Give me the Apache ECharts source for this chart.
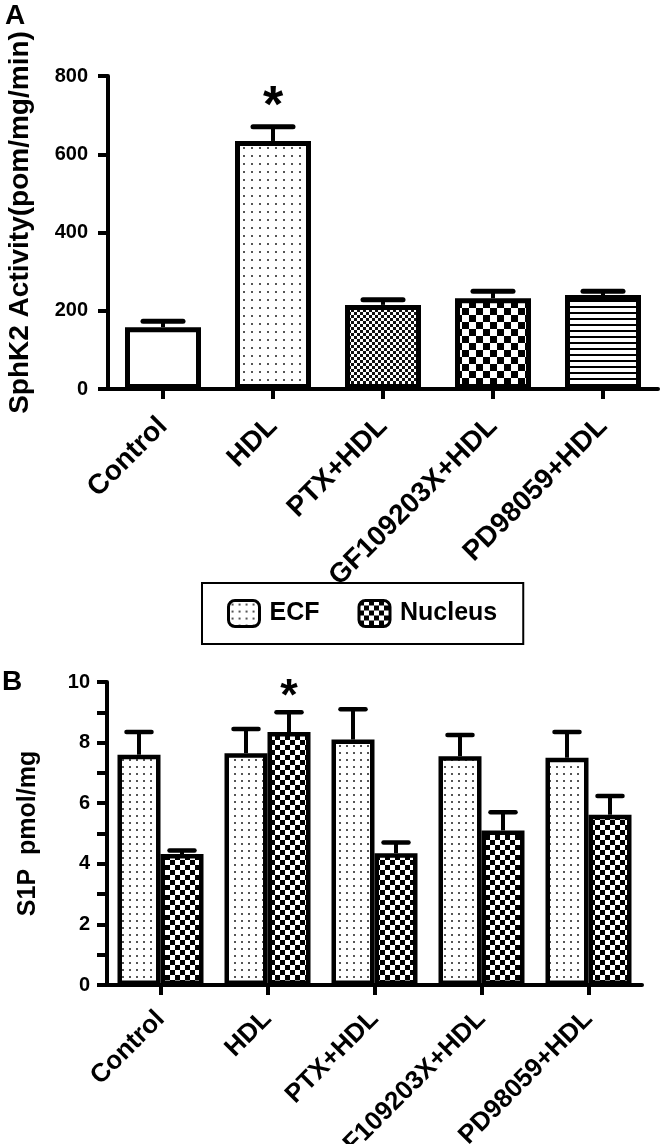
<!DOCTYPE html>
<html><head><meta charset="utf-8">
<script src="https://cdn.jsdelivr.net/npm/echarts@6/dist/echarts.min.js"></script>
<style>html,body{margin:0;padding:0;background:#fff}#c{width:660px;height:1144px}</style>
</head><body><div id="c"></div>
<script>
// ---- data ----
const categories = ['Control', 'HDL', 'PTX+HDL', 'GF109203X+HDL', 'PD98059+HDL'];
const sphk2Mean = [158, 634, 215, 232, 240];
const sphk2Err = [15, 36, 13, 18, 10];
const sphk2Sig = [0, 1, 0, 0, 0];
const ecfMean = [7.6, 7.65, 8.1, 7.55, 7.5];
const ecfErr = [0.75, 0.8, 1.0, 0.7, 0.85];
const ecfSig = [0, 0, 0, 0, 0];
const nucMean = [4.32, 8.35, 4.35, 5.1, 5.62];
const nucErr = [0.12, 0.65, 0.35, 0.6, 0.62];
const nucSig = [0, 1, 0, 0, 0];
const yMaxA = 800, yStepA = 200;
const yMaxB = 10, yStepB = 1, yLabelStepB = 2;
const seriesNamesB = ['ECF', 'Nucleus'];

// ---- styles ----
const FONT = '"Liberation Sans", Arial, sans-serif';
function makePattern(w, h, draw) {
  const c = document.createElement('canvas');
  c.width = w; c.height = h;
  const ctx = c.getContext('2d');
  ctx.fillStyle = '#fff'; ctx.fillRect(0, 0, w, h);
  draw(ctx);
  return { image: c, repeat: 'repeat' };
}
const dots8 = makePattern(8, 8, c => { c.fillStyle = '#555'; c.fillRect(3, 3, 2, 2); });
const fineCheck = makePattern(6, 6, c => { c.fillStyle = '#111'; c.fillRect(0, 0, 3, 3); c.fillRect(3, 3, 3, 3); });
const check14 = makePattern(14, 14, c => { c.fillStyle = '#000'; c.fillRect(0, 0, 7, 7); c.fillRect(7, 7, 7, 7); });
const hLines = makePattern(6, 6, c => { c.fillStyle = '#000'; c.fillRect(0, 0, 6, 2); });
const dots7 = makePattern(7, 7, c => { c.fillStyle = '#555'; c.fillRect(3, 3, 2, 2); });
const check10 = makePattern(10, 10, c => { c.fillStyle = '#000'; c.fillRect(0, 0, 5, 5); c.fillRect(5, 5, 5, 5); });
const fillsA = ['#ffffff', dots8, fineCheck, check14, hLines];

const barWB = 43;

function errRender(offsetPx, capW, capLW, stemLW, starSize, starGap) {
  return function (params, api) {
    const i = api.value(0), m = api.value(1), e = api.value(2), s = api.value(3);
    const p0 = api.coord([i, m]);
    const p1 = api.coord([i, m + e]);
    const x = p0[0] + offsetPx;
    const children = [
      { type: 'line', shape: { x1: x, y1: p0[1], x2: x, y2: p1[1] }, style: { stroke: '#000', lineWidth: stemLW } },
      { type: 'line', shape: { x1: x - capW / 2, y1: p1[1], x2: x + capW / 2, y2: p1[1] }, style: { stroke: '#000', lineWidth: capLW, lineCap: 'round' } }
    ];
    if (s) {
      children.push({ type: 'text', x: x, y: p1[1] - starGap,
        style: { text: '*', fontSize: starSize, fontWeight: 'bold', fontFamily: FONT, fill: '#000', align: 'center', verticalAlign: 'middle' } });
    }
    return { type: 'group', children };
  };
}

const axisLineStyle = { show: true, lineStyle: { color: '#000', width: 4 } };
const tickStyle = { show: true, length: 10, lineStyle: { color: '#000', width: 4 } };
const xLabelSize = [28, 26];
const xLabelMargin = [33, 30];

const option = {
  animation: false,
  backgroundColor: '#fff',
  title: [
    { text: 'A', left: 5, top: 2, padding: 0, textStyle: { fontSize: 28, fontWeight: 'bold', fontFamily: FONT, color: '#000' } },
    { text: 'B', left: 2, top: 668, padding: 0, textStyle: { fontSize: 28, fontWeight: 'bold', fontFamily: FONT, color: '#000' } }
  ],
  legend: {
    data: seriesNamesB, left: 202, top: 583, orient: 'horizontal',
    icon: 'roundRect', itemWidth: 31, itemHeight: 26, itemGap: 38,
    padding: [16, 26, 16, 25], borderColor: '#000', borderWidth: 2,
    itemStyle: { borderColor: '#000', borderWidth: 3 },
    textStyle: { fontSize: 25, fontWeight: 'bold', fontFamily: FONT, color: '#000', padding: [0, 0, 0, 5] }
  },
  grid: [
    { left: 108, top: 76, width: 550, height: 313, outerBoundsMode: 'none' },
    { left: 107, top: 682, width: 535, height: 303, outerBoundsMode: 'none' }
  ],
  xAxis: [0, 1].map(g => ({
    gridIndex: g, type: 'category', data: categories,
    axisLine: axisLineStyle,
    axisTick: Object.assign({ alignWithLabel: true }, tickStyle),
    axisLabel: { rotate: 45, margin: xLabelMargin[g], interval: 0, fontSize: xLabelSize[g], fontWeight: 'bold', fontFamily: FONT, color: '#000',
      padding: [28, 0, 0, 0] }
  })),
  yAxis: [
    { gridIndex: 0, type: 'value', min: 0, max: yMaxA, interval: yStepA,
      axisLine: axisLineStyle, axisTick: tickStyle, splitLine: { show: false },
      axisLabel: { margin: 20, fontSize: 20, fontWeight: 'bold', fontFamily: FONT, color: '#000' },
      name: 'SphK2 Activity(pom/mg/min)', nameLocation: 'middle', nameRotate: 90, nameGap: 74,
      nameTextStyle: { fontSize: 28, fontWeight: 'bold', fontFamily: FONT, color: '#000', padding: [0, 0, 0, 20] } },
    { gridIndex: 1, type: 'value', min: 0, max: yMaxB, interval: yStepB,
      axisLine: axisLineStyle, axisTick: tickStyle, splitLine: { show: false },
      axisLabel: { margin: 17, fontSize: 20, fontWeight: 'bold', fontFamily: FONT, color: '#000',
        formatter: v => (v % yLabelStepB === 0 ? String(v) : '') },
      name: 'S1P  pmol/mg', nameLocation: 'middle', nameRotate: 90, nameGap: 66,
      nameTextStyle: { fontSize: 25, fontWeight: 'bold', fontFamily: FONT, color: '#000' } }
  ],
  series: [
    { type: 'bar', xAxisIndex: 0, yAxisIndex: 0, barWidth: 76,
      data: sphk2Mean.map((v, i) => ({ value: v, itemStyle: { color: fillsA[i] } })),
      itemStyle: { borderColor: '#000', borderWidth: 5 } },
    { type: 'custom', xAxisIndex: 0, yAxisIndex: 0, z: 3,
      renderItem: errRender(0, 40, 5, 4, 52, 19),
      encode: { x: 0, y: 1 },
      data: categories.map((c, i) => [i, sphk2Mean[i], sphk2Err[i], sphk2Sig[i]]) },
    { name: seriesNamesB[0], type: 'bar', xAxisIndex: 1, yAxisIndex: 1, barWidth: barWB, barGap: '0%',
      data: ecfMean, itemStyle: { color: dots7, borderColor: '#000', borderWidth: 4.5 } },
    { name: seriesNamesB[1], type: 'bar', xAxisIndex: 1, yAxisIndex: 1, barWidth: barWB, barGap: '0%',
      data: nucMean, itemStyle: { color: check10, borderColor: '#000', borderWidth: 4.5 } },
    { type: 'custom', xAxisIndex: 1, yAxisIndex: 1, z: 3,
      renderItem: errRender(-barWB / 2, 25, 4.5, 4, 45, 15),
      encode: { x: 0, y: 1 },
      data: categories.map((c, i) => [i, ecfMean[i], ecfErr[i], ecfSig[i]]) },
    { type: 'custom', xAxisIndex: 1, yAxisIndex: 1, z: 3,
      renderItem: errRender(barWB / 2, 25, 4.5, 4, 45, 15),
      encode: { x: 0, y: 1 },
      data: categories.map((c, i) => [i, nucMean[i], nucErr[i], nucSig[i]]) }
  ]
};
const chart = echarts.init(document.getElementById('c'), null, { renderer: 'canvas' });
chart.setOption(option);
</script>
</body></html>
